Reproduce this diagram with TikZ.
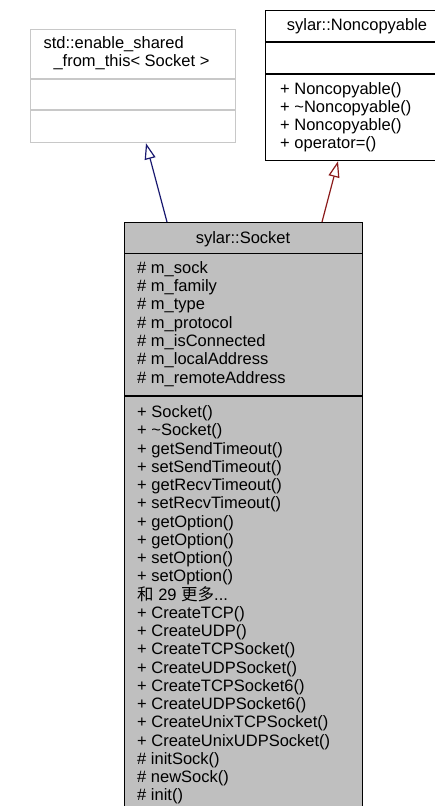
\documentclass[tikz,border=0pt]{standalone}
\usepackage{fontspec}
\setmainfont{Liberation Sans}
\newfontfamily\cjk{Noto Sans CJK SC}
\usetikzlibrary{arrows.meta,calc}
\definecolor{boxgray}{HTML}{BFBFBF}
\definecolor{lightedge}{HTML}{C8C8C8}
\definecolor{inhblue}{HTML}{191970}
\definecolor{inhred}{HTML}{8B1A1A}
\newcommand\moretxt{{\cjk 和} 29 {\cjk 更多}...}
\tikzset{
  classbox/.style={draw, line width=1.2pt, anchor=north west, inner sep=0pt},
  member/.style={anchor=base west, inner sep=0pt, font=\fontsize{16.5}{18}\selectfont},
  title/.style={anchor=base, inner sep=0pt, font=\fontsize{16.5}{18}\selectfont},
  inh/.style={line width=1.2pt, -{Triangle[open, length=16pt, width=11pt, line width=1.2pt]}},
}
\begin{document}
\begin{tikzpicture}[x=1pt,y=-1pt]
\useasboundingbox (0,0) rectangle (435,806);
\clip (0,0) rectangle (435,806);
\fill[white] (0,0) rectangle (435,806);
% enable_shared_from_this box
\node (esf) [classbox, draw=lightedge, fill=white, minimum width=205pt, minimum height=113pt] at (30,29) {};
\draw[lightedge, line width=1.2pt] (30,79) -- (235,79) (30,110) -- (235,110);
\node[member] (esft1) at (43.3,48.3) {std::enable\_shared};
\node[member] (esft2) at (53.3,66.7) {\_from\_this< Socket >};
% Noncopyable box
\node (nc) [classbox, fill=white, minimum width=190pt, minimum height=150pt] at (265,10) {};
\draw[line width=1.2pt] (265,42) -- (460,42) (265,74) -- (460,74);
\node[title] (nct) at (357,30.7) {sylar::Noncopyable};
\foreach \t [count=\i from 0] in {+ Noncopyable(), + \textasciitilde Noncopyable(), + Noncopyable(), + operator=()}
  \node[member] (ncm\i) at (280,{94+18.3*\i}) {\t};
% Socket box
\node (sock) [classbox, fill=boxgray, minimum width=238pt, minimum height=620pt] at (124,222) {};
\draw[line width=1.2pt] (124,253.5) -- (362,253.5) (124,396) -- (362,396);
\node[title] (sockt) at (243,243) {sylar::Socket};
\foreach \t [count=\i from 0] in {\# m\_sock, \# m\_family, \# m\_type, \# m\_protocol, \# m\_isConnected, \# m\_localAddress, \# m\_remoteAddress}
  \node[member] (sa\i) at (137,{273.3+18.33*\i}) {\t};
\foreach \t [count=\i from 0] in {+ Socket(), + \textasciitilde Socket(), + getSendTimeout(), + setSendTimeout(), + getRecvTimeout(), + setRecvTimeout(), + getOption(), + getOption(), + setOption(), + setOption(), \moretxt, + CreateTCP(), + CreateUDP(), + CreateTCPSocket(), + CreateUDPSocket(), + CreateTCPSocket6(), + CreateUDPSocket6(), + CreateUnixTCPSocket(), + CreateUnixUDPSocket(), \# initSock(), \# newSock(), \# init()}
  \node[member] (sm\i) at (137,{417.7+18.24*\i}) {\t};
% inheritance arrows
\draw[inh, inhblue] ($(sock.north west)+(43,0)$) -- ($(esf.south west)+(116,0)$);
\draw[inh, inhred] ($(sock.north west)+(198,0)$) -- ($(nc.south west)+(73,0)$);
\end{tikzpicture}
\end{document}
